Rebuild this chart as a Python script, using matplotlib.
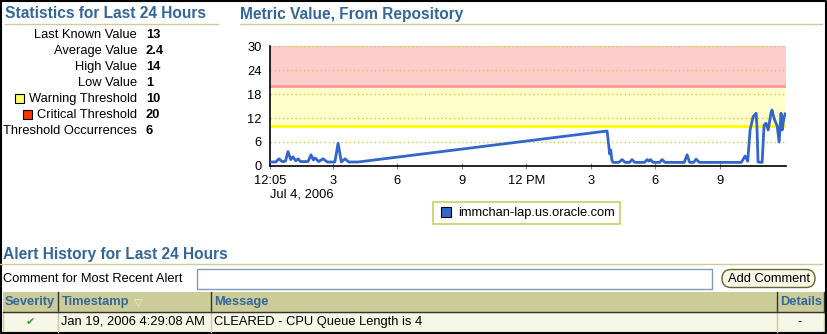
import matplotlib
matplotlib.use("Agg")
import matplotlib.pyplot as plt
from matplotlib.patches import Rectangle, FancyBboxPatch

plt.rcParams['font.family'] = ['Liberation Sans', 'DejaVu Sans']

# Daten (hodiny od půlnoci, hodnota metriky)
times = [0.08, 0.35, 0.50, 0.65, 0.80, 0.92, 1.05, 1.15, 1.28, 1.39, 1.50, 1.85,
         1.99, 2.10, 2.18, 2.35, 2.55, 2.75, 3.10, 3.25, 3.40, 3.57, 3.75, 4.18,
         15.76, 15.88, 15.93, 15.98, 16.04, 16.30, 16.46, 16.60, 16.80, 16.92,
         17.05, 17.50, 17.62, 17.70, 17.78, 17.90, 18.20, 18.32, 18.45, 19.35,
         19.48, 19.60, 19.78, 19.90, 20.05, 22.00, 22.18, 22.30, 22.41, 22.55,
         22.69, 22.73, 22.78, 22.97, 23.06, 23.15, 23.25, 23.38, 23.43, 23.53,
         23.67, 23.76, 23.85, 23.90, 23.99, 24.04]
values = [1.0, 1.0, 1.8, 1.1, 1.2, 3.6, 1.6, 2.3, 1.3, 1.8, 1.1, 1.1,
          2.8, 1.5, 2.0, 1.1, 1.8, 1.0, 1.0, 5.7, 1.0, 1.8, 1.0, 1.0,
          8.75, 3.0, 4.0, 1.5, 0.9, 0.9, 1.6, 0.9, 0.9, 1.6,
          0.9, 0.9, 1.6, 1.2, 1.6, 0.9, 0.9, 1.6, 0.9, 0.9,
          2.8, 0.9, 0.9, 1.7, 0.9, 0.9, 2.5, 1.2, 9.0, 12.3,
          13.2, 9.8, 1.0, 0.9, 10.2, 10.7, 9.0, 13.2, 14.0, 11.8,
          10.0, 6.0, 13.2, 9.0, 12.2, 13.0]

warning = 10
critical = 20
xticks = [0.083, 3, 6, 9, 12, 15, 18, 21]
xtick_labels = ["12:05", "3", "6", "9", "12 PM", "3", "6", "9"]
yticks = [0, 6, 12, 18, 24, 30]

stat_labels = ["Last Known Value", "Average Value", "High Value", "Low Value",
               "Warning Threshold", "Critical Threshold", "Threshold Occurrences"]
stat_values = ["13", "2.4", "14", "1", "10", "20", "6"]

series_name = "immchan-lap.us.oracle.com"
col_names = ["Severity", "Timestamp", "Message", "Details"]
row_values = ["Jan 19, 2006 4:29:08 AM", "CLEARED - CPU Queue Length is 4", "-"]

W, H = 827, 334
blue_hdr = "#336699"
olive = "#CCCC99"
fs = 9.3

fig = plt.figure(figsize=(W / 100, H / 100), dpi=100)
fig.patch.set_facecolor("white")

# pozadí v pixelových souřadnicích
bg = fig.add_axes([0, 0, 1, 1])
bg.set_xlim(0, W)
bg.set_ylim(H, 0)
bg.axis("off")

# rámeček
bg.plot([0.5, 0.5, W - 1.5, W - 1.5, 0.5], [0.5, H - 1, H - 1, 0.5, 0.5], color="black", lw=1.5)

# nadpisy
bg.text(5, 14, "Statistics for Last 24 Hours", fontsize=11.2, fontweight="bold", color=blue_hdr, va="center")
bg.plot([5, 218], [23.5, 23.5], color=olive, lw=1)
bg.text(240, 14, "Metric Value, From Repository", fontsize=11.2, fontweight="bold", color=blue_hdr, va="center")
bg.plot([240, 822], [23.5, 23.5], color=olive, lw=1)

# statistiky
for i, (lab, val) in enumerate(zip(stat_labels, stat_values)):
    y = 35 + i * 16
    bg.text(137, y, lab, fontsize=fs, ha="right", va="center")
    bg.text(146, y, val, fontsize=fs, fontweight="bold", ha="left", va="center")
bg.add_patch(Rectangle((15, 93.5), 9, 9, facecolor="#FFFF66", edgecolor="black", lw=0.8))
bg.add_patch(Rectangle((23, 109.5), 9, 9, facecolor="#FF3300", edgecolor="black", lw=0.8))

# legenda grafu
bg.add_patch(Rectangle((433, 202), 187, 22, facecolor="white", edgecolor="#CCCC66", lw=1.2))
bg.add_patch(Rectangle((441, 207), 10, 10, facecolor="#3366CC", edgecolor="black", lw=0.8))
bg.text(458, 213, series_name, fontsize=fs, va="center")

# historie alertů
bg.text(3, 255, "Alert History for Last 24 Hours", fontsize=11.2, fontweight="bold", color=blue_hdr, va="center")
bg.plot([0, 822], [264, 264], color=olive, lw=1)
bg.text(3, 279, "Comment for Most Recent Alert", fontsize=fs, va="center")
bg.add_patch(Rectangle((197, 268.5), 515, 20.5, facecolor="white", edgecolor="#7F9DB9", lw=1))
bg.add_patch(FancyBboxPatch((722, 269.5), 93, 18, boxstyle="round,pad=0,rounding_size=9",
                            facecolor="#F7F7E7", edgecolor="#666633", lw=1))
bg.text(768.5, 278.5, "Add Comment", fontsize=fs, ha="center", va="center")

# tabulka
bg.add_patch(Rectangle((3, 292), 821, 20, facecolor=olive, edgecolor="none"))
bg.add_patch(Rectangle((3, 312), 821, 20, facecolor="#F7F7E7", edgecolor="#CCCC99", lw=1))
for x in [58, 211, 777]:
    bg.plot([x, x], [292, 312], color="#333333", lw=1)
    bg.plot([x, x], [312, 332], color=olive, lw=1)
bg.plot([3, 824], [312, 312], color="#333333", lw=1)
bg.plot([824, 824], [292, 312], color="#333333", lw=1)
hdr_x = [5, 62, 214, 780]
for x, name in zip(hdr_x, col_names):
    bg.text(x, 302, name, fontsize=fs, fontweight="bold", color=blue_hdr, va="center")
bg.text(134, 302, "\u25bd", fontsize=8, color="#EEEEDD", va="center", family="DejaVu Sans")
bg.text(30, 322, "\u2714", fontsize=8, color="#339933", ha="center", va="center", family="DejaVu Sans")
bg.text(61, 322, row_values[0], fontsize=fs, va="center")
bg.text(214, 322, row_values[1], fontsize=fs, va="center")
bg.text(800, 322, row_values[2], fontsize=fs, ha="center", va="center")

# graf
ax = fig.add_axes([270 / W, 1 - 166 / H, 516 / W, 120 / H])
ax.set_xlim(0.083, 24.08)
ax.set_ylim(0, 30)
ax.axhspan(warning, critical, color="#FFFFCC", lw=0, zorder=0)
ax.axhspan(critical, 30, color="#FFCCCC", lw=0, zorder=0)
for y in yticks[1:]:
    ax.axhline(y, color="#CCCC33", lw=1, ls=(0, (1, 2)), zorder=1)
ax.axhline(warning, color="#FFFF00", lw=2, zorder=2)
ax.axhline(critical, color="#FF9999", lw=2, zorder=2)
ax.plot(times, values, color="#3366CC", lw=2, zorder=3)

for s in ["top", "right"]:
    ax.spines[s].set_visible(False)
ax.spines["left"].set_linewidth(1.2)
ax.spines["bottom"].set_linewidth(1.2)
ax.set_facecolor("white")
ax.set_yticks(yticks)
ax.set_yticklabels([str(v) for v in yticks], fontsize=fs)
ax.tick_params(axis="y", length=0, pad=6)
ax.set_xticks(xticks)
ax.set_xticklabels(xtick_labels, fontsize=fs)
ax.tick_params(axis="x", direction="inout", length=5, color="#888888", pad=4)
ax.text(0.0, -0.19, "Jul 4, 2006", transform=ax.transAxes, fontsize=fs, va="top", ha="left")

fig.savefig("out.png", dpi=100)
